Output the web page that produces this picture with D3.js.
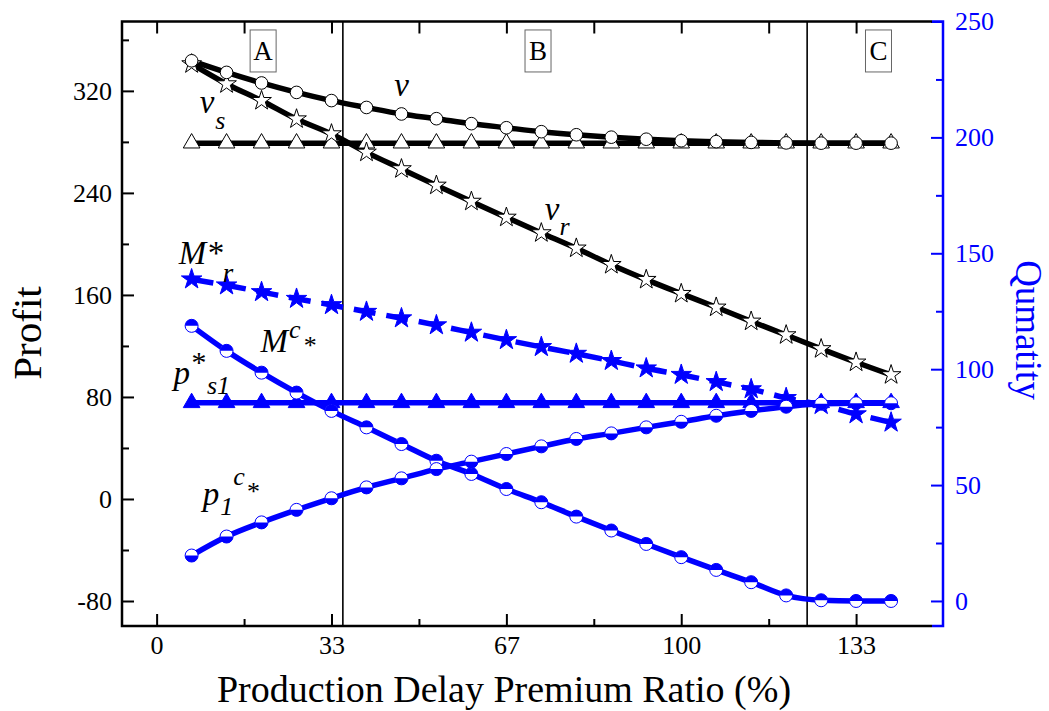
<!DOCTYPE html>
<html>
<head>
<meta charset="utf-8">
<script src="https://cdn.jsdelivr.net/npm/d3@7"></script>
<style>
  html, body { margin: 0; padding: 0; background: #fff; }
  svg text { font-family: "Liberation Serif", "Times New Roman", serif; }
</style>
</head>
<body>
<svg id="chart" width="1049" height="711"></svg>
<script>
// ---------- data ----------
const ratio = [6.67, 13.33, 20, 26.67, 33.33, 40, 46.67, 53.33, 60, 66.67, 73.33, 80, 86.67, 93.33, 100, 106.67, 113.33, 120, 126.67, 133.33, 140];

// Profit (left axis)
const vProfit  = [343.6, 334.5, 326.2, 318.8, 312.4, 307.0, 301.9, 298.2, 294.3, 291.1, 288.0, 285.6, 283.7, 282.1, 280.9, 280.2, 279.6, 279.2, 279.0, 279.0, 279.0];
const vsProfit = [279, 279, 279, 279, 279, 279, 279, 279, 279, 279, 279, 279, 279, 279, 279, 279, 279, 279, 279, 279, 279];
const vrProfit = [341.1, 325.4, 312.3, 297.9, 286.2, 271.8, 258.8, 245.9, 233.3, 220.8, 208.6, 196.6, 183.7, 172.0, 161.0, 150.3, 139.3, 128.6, 117.7, 107.2, 97.3];

// Quantity (right axis)
const mrQty  = [138.8, 136.2, 133.3, 130.4, 127.7, 124.8, 122.0, 119.0, 115.8, 112.6, 109.6, 106.7, 103.6, 100.4, 97.6, 94.5, 91.4, 87.6, 84.6, 80.6, 77.0];
const ps1Qty = [85.5, 85.5, 85.5, 85.5, 85.5, 85.5, 85.5, 85.5, 85.5, 85.5, 85.5, 85.5, 85.5, 85.5, 85.5, 85.5, 85.5, 85.5, 85.5, 85.5, 85.5];
const mcQty  = [118.7, 107.9, 98.5, 89.9, 82.0, 74.9, 67.7, 60.5, 54.8, 48.3, 42.6, 36.4, 30.4, 24.6, 18.9, 13.4, 8.1, 2.4, 0.3, 0, 0];
const p1cQty = [19.6, 27.8, 33.9, 39.3, 44.3, 49.0, 52.9, 56.9, 60.1, 63.4, 66.7, 69.9, 72.3, 74.9, 77.3, 79.9, 82.0, 83.8, 85.1, 85.3, 85.3];

// ticks
const xMajor = [0, 33.33, 66.67, 100, 133.33];
const xMajorLabels = ["0", "33", "67", "100", "133"];
const xMinor = [16.67, 50, 83.33, 116.67];
const yMajor = [-80, 0, 80, 160, 240, 320];
const yMinor = [-40, 40, 120, 200, 280, 360];
const rMajor = [0, 50, 100, 150, 200, 250];
const rMinor = [25, 75, 125, 175, 225];

// region boundaries and labels
const regionLines = [35.5, 124];
const regionNames = ["A", "B", "C"];
const regionLabelX = [20.3, 72.7, 137.6];

// ---------- layout ----------
const svg = d3.select("#chart");
const L = 122, R = 932, RA = 943, T = 21.5, B = 626;
const BLUE = "#0000ff";

const x = d3.scaleLinear().domain([-6.6, 147.8]).range([L, R]);
const y = d3.scaleLinear().domain([-99.6, 374.4]).range([B, T]);
const yR = d3.scaleLinear().domain([-10.8, 250]).range([B, T]);

// ---------- axes ----------
function styleAxis(g, color) {
  g.select(".domain").remove();
  g.selectAll(".tick line").attr("stroke", color).attr("stroke-width", 2);
  g.selectAll(".tick text").attr("fill", color).style("font-size", "26px")
    .style("font-family", "'Liberation Serif', serif");
}
const plain = d => String(d);

// left
svg.append("g").attr("transform", `translate(${L},0)`)
  .call(d3.axisLeft(y).tickValues(yMajor).tickSizeInner(-12).tickSizeOuter(0).tickPadding(10).tickFormat(plain))
  .call(g => styleAxis(g, "#000"));
svg.append("g").attr("transform", `translate(${L},0)`)
  .call(d3.axisLeft(y).tickValues(yMinor).tickSizeInner(-7).tickSizeOuter(0).tickFormat(""))
  .call(g => styleAxis(g, "#000"));

// bottom
svg.append("g").attr("transform", `translate(0,${B})`)
  .call(d3.axisBottom(x).tickValues(xMajor).tickSizeInner(-12).tickSizeOuter(0).tickPadding(10)
    .tickFormat((d, i) => xMajorLabels[i]))
  .call(g => styleAxis(g, "#000"));
svg.append("g").attr("transform", `translate(0,${B})`)
  .call(d3.axisBottom(x).tickValues(xMinor).tickSizeInner(-7).tickSizeOuter(0).tickFormat(""))
  .call(g => styleAxis(g, "#000"));

// top
svg.append("g").attr("transform", `translate(0,${T})`)
  .call(d3.axisTop(x).tickValues(xMajor.concat(xMinor)).tickSizeInner(-12).tickSizeOuter(0).tickFormat(""))
  .call(g => styleAxis(g, "#000"));

// right
svg.append("g").attr("transform", `translate(${RA},0)`)
  .call(d3.axisRight(yR).tickValues(rMajor).tickSizeInner(-12).tickSizeOuter(0).tickPadding(12).tickFormat(plain))
  .call(g => styleAxis(g, BLUE));
svg.append("g").attr("transform", `translate(${RA},0)`)
  .call(d3.axisRight(yR).tickValues(rMinor).tickSizeInner(-7).tickSizeOuter(0).tickFormat(""))
  .call(g => styleAxis(g, BLUE));

// frame
svg.append("path").attr("d", `M${R},${T}H${L}V${B}H${R}`).attr("fill", "none").attr("stroke", "#000").attr("stroke-width", 2.5);
svg.append("path").attr("d", `M${R},${T}H${RA}V${B}H${R}`).attr("fill", "none").attr("stroke", BLUE).attr("stroke-width", 2.5);

// region lines
svg.selectAll(".region").data(regionLines).join("line")
  .attr("x1", d => x(d)).attr("x2", d => x(d)).attr("y1", T).attr("y2", B)
  .attr("stroke", "#000").attr("stroke-width", 1.6);

// region labels
const rl = svg.selectAll(".rlab").data(regionNames).join("g")
  .attr("transform", (d, i) => `translate(${x(regionLabelX[i])},${y(351.3)})`);
rl.append("rect").attr("x", -13).attr("y", -21).attr("width", 26).attr("height", 42)
  .attr("fill", "none").attr("stroke", "#666").attr("stroke-width", 1);
rl.append("text").attr("text-anchor", "middle").attr("y", 9).style("font-size", "27px").text(d => d);

// ---------- series ----------
const line = (ys, scale) => d3.line().curve(d3.curveMonotoneX)
  .x((d, i) => x(ratio[i])).y(d => scale(d))(ys);

function drawLine(ys, scale, color, dash) {
  svg.append("path").attr("d", line(ys, scale)).attr("fill", "none")
    .attr("stroke", color).attr("stroke-width", 5.5).attr("stroke-dasharray", dash || null);
}

drawLine(vsProfit, y, "#000");
drawLine(vrProfit, y, "#000");
drawLine(vProfit, y, "#000");
drawLine(mrQty, yR, BLUE, "22,11");
drawLine(ps1Qty, yR, BLUE);
drawLine(mcQty, yR, BLUE);
drawLine(p1cQty, yR, BLUE);

const sym = (type, size) => d3.symbol().type(type).size(size)();

function markers(ys, scale, path, fill, stroke, sw) {
  svg.append("g").selectAll("path").data(ys).join("path")
    .attr("transform", (d, i) => `translate(${x(ratio[i])},${scale(d)})`)
    .attr("d", path).attr("fill", fill).attr("stroke", stroke).attr("stroke-width", sw);
}

markers(vsProfit, y, sym(d3.symbolTriangle, 120), "#fff", "#000", 1);
markers(vrProfit, y, sym(d3.symbolStar, 120), "#fff", "#000", 1);
markers(vProfit, y, sym(d3.symbolCircle, 125), "#fff", "#000", 1);
markers(ps1Qty, yR, sym(d3.symbolTriangle, 120), BLUE, BLUE, 1);
markers(mrQty, yR, sym(d3.symbolStar, 130), BLUE, BLUE, 1);

function halfCircles(ys, scale, top) {
  const r = 6.5;
  const g = svg.append("g").selectAll("g").data(ys).join("g")
    .attr("transform", (d, i) => `translate(${x(ratio[i])},${scale(d)})`);
  g.append("circle").attr("r", r).attr("fill", "#fff").attr("stroke", BLUE).attr("stroke-width", 1);
  g.append("path").attr("d", `M${-r},0A${r},${r} 0 0 ${top ? 1 : 0} ${r},0Z`).attr("fill", BLUE);
}
halfCircles(mcQty, yR, true);
halfCircles(p1cQty, yR, false);

// ---------- series labels ----------
function label(xv, yv, scale, parts) {
  const t = svg.append("text").attr("x", x(xv)).attr("y", scale(yv))
    .style("font-style", "italic").style("font-size", "33px").attr("fill", "#000");
  parts.forEach(p => {
    t.append("tspan").attr("dy", p.dy || 0).attr("dx", p.dx || 0)
      .style("font-size", p.size || "33px").text(p.t);
  });
}
label(45.3, 316, y, [{t: "v"}]);
label(8.2, 303, y, [{t: "v"}, {t: "s", dy: 16, dx: 1, size: "26px"}]);
label(74, 219, y, [{t: "v"}, {t: "r", dy: 15, size: "26px"}]);
label(4.2, 145.5, yR, [{t: "M*"}, {t: "r", dy: 18, dx: 0, size: "27px"}]);
label(19.8, 107.5, yR, [{t: "M"}, {t: "c", dy: -14, dx: 1, size: "26px"}, {t: "*", dy: 16, dx: 2, size: "26px"}]);
label(3.2, 93.5, yR, [{t: "p"}, {t: "*", dy: -12, size: "30px"}, {t: "s1", dy: 22, dx: 2, size: "26px"}]);
label(8.8, 41.5, yR, [{t: "p"}, {t: "1", dy: 10, dx: 1, size: "26px"}, {t: "c", dy: -30, size: "26px"}, {t: "*", dy: 15, dx: 1, size: "26px"}]);

// ---------- axis titles ----------
svg.append("text").attr("text-anchor", "middle")
  .attr("transform", `translate(41,333) rotate(-90)`)
  .style("font-size", "41px").text("Profit");
svg.append("text").attr("text-anchor", "middle")
  .attr("transform", `translate(1016,330) rotate(90)`)
  .attr("fill", BLUE).style("font-size", "37px").text("Qumatity");
svg.append("text").attr("text-anchor", "middle")
  .attr("x", 504).attr("y", 702)
  .style("font-size", "38px").text("Production Delay Premium Ratio (%)");
</script>
</body>
</html>
